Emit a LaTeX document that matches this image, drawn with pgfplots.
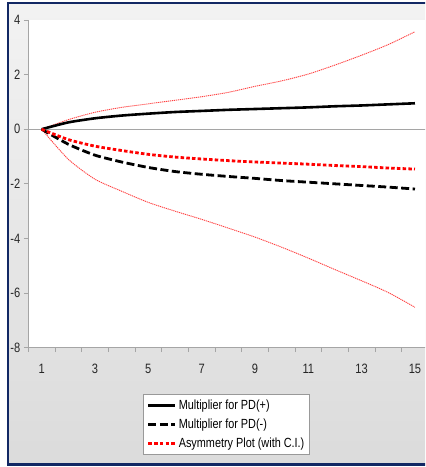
\documentclass[border=0pt]{standalone}
\usepackage{pgfplots}
\usepackage{pgfplotstable}
\pgfplotsset{compat=1.18}
\usepackage{fontspec}
\setmainfont{Liberation Sans}[FakeStretch=0.82]
\definecolor{frameblue}{RGB}{18,40,100}
\definecolor{axisgray}{RGB}{165,165,165}

\pgfplotstableread{
x  pdp   pdm    asym   up    lo
1  0     0      0      0     0
2  0.25  -0.55  -0.38  0.35  -1.10
3  0.40  -0.95  -0.62  0.62  -1.83
4  0.50  -1.20  -0.78  0.80  -2.27
5  0.57  -1.40  -0.92  0.93  -2.68
6  0.63  -1.55  -1.02  1.06  -3.00
7  0.67  -1.65  -1.09  1.19  -3.30
8  0.71  -1.73  -1.15  1.35  -3.62
9  0.74  -1.80  -1.20  1.57  -3.95
10 0.77  -1.88  -1.24  1.77  -4.32
11 0.80  -1.94  -1.28  2.02  -4.72
12 0.84  -2.00  -1.33  2.35  -5.14
13 0.87  -2.06  -1.37  2.71  -5.55
14 0.91  -2.12  -1.42  3.10  -5.98
15 0.95  -2.19  -1.46  3.57  -6.52
}\irf

\begin{document}
\begin{tikzpicture}[x=1bp,y=1bp]
\useasboundingbox (0,0) rectangle (425,467);
\clip (0,0) rectangle (425,467);
% panel background and frame
\shade[top color=black!5, bottom color=black!14] (8,2.5) rectangle (432,464);
\draw[frameblue, line width=2.5bp] (432,464) -- (8,464) -- (8,2.5) -- (432,2.5);

\begin{axis}[
    at={(28.3bp,119.3bp)}, anchor=south west,
    scale only axis,
    width=400bp, height=327.7bp,
    xmin=0.5, xmax=15.5, ymin=-8, ymax=4,
    axis x line*=bottom, axis y line*=left,
    axis line style={axisgray, line width=0.8bp},
    axis background/.style={fill=white},
    xtick={0.5,1.5,...,15.5}, xticklabels={},
    extra x ticks={1,3,...,15},
    extra x tick style={major tick length=0pt, xticklabel style={yshift=-13bp}},
    ytick={-8,-6,...,4},
    extra y ticks={0}, extra y tick labels={},
    extra y tick style={grid=major, major grid style={axisgray, line width=0.9bp}},
    tick align=outside, major tick length=4.5bp,
    tick style={axisgray, line width=0.7bp},
    ticklabel style={font=\fontsize{13.6}{14}\selectfont, text=black!85},
    /pgf/number format/assume math mode=true,
    legend style={at={(0.287,-0.141)}, anchor=north west,
        draw=gray!80, fill=white, line width=0.8bp,
        font=\fontsize{13.3}{14}\selectfont,
        row sep=4bp, inner xsep=3.5bp, inner ysep=3.5bp},
    legend cell align=left,
    legend image code/.code={\draw[#1] (0bp,0bp) -- (27bp,0bp);},
    every axis plot/.append style={smooth, tension=0.4},
]
    \addplot[red!75, line width=0.9bp, dash pattern=on 1.2bp off 0.8bp, forget plot] table[x=x, y=up] {\irf};
    \addplot[red!75, line width=0.9bp, dash pattern=on 1.2bp off 0.8bp, forget plot] table[x=x, y=lo] {\irf};

    \addplot[black, line width=2.6bp] table[x=x, y=pdp] {\irf};
    \addlegendentry{Multiplier for PD(+)}

    \addplot[black, line width=2.8bp, dash pattern=on 8bp off 3.5bp] table[x=x, y=pdm] {\irf};
    \addlegendentry{Multiplier for PD(-)}

    \addplot[red, line width=2.8bp, dash pattern=on 3.5bp off 2.2bp] table[x=x, y=asym] {\irf};
    \addlegendentry{Asymmetry Plot (with C.I.)}
\end{axis}
\end{tikzpicture}
\end{document}
